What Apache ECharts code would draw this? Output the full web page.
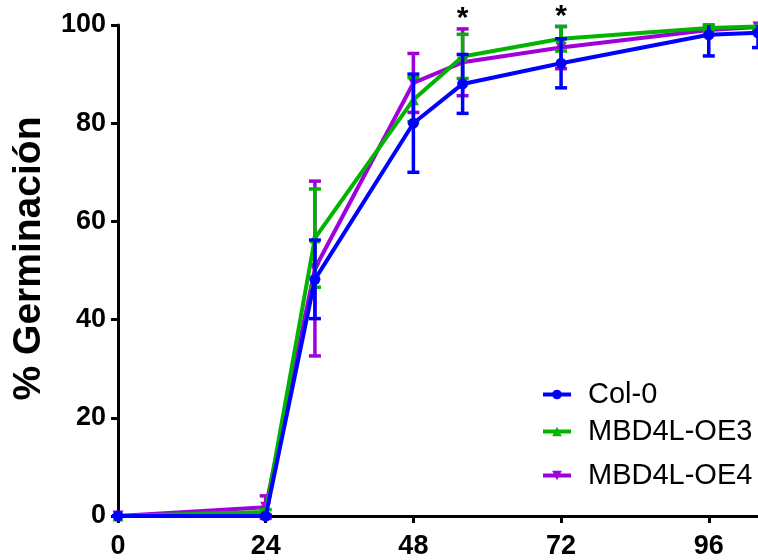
<!DOCTYPE html>
<html><head><meta charset="utf-8">
<script src="https://cdn.jsdelivr.net/npm/echarts@6/dist/echarts.min.js"></script>
<style>html,body{margin:0;padding:0;background:#fff}#c{width:758px;height:560px}</style>
</head><body><div id="c"></div>
<script>
// ---- data ----
const hours = [0, 24, 32, 48, 56, 72, 96, 104];
const col0 = [0, 0, 48.2, 80, 88, 92.2, 98, 98.4];
const col0Err = [0, 0, 8, 10, 6, 5, 4.3, 3];
const oe3 = [0, 0.8, 56.6, 84.8, 93.6, 97.2, 99.4, 99.7];
const oe3Err = [0, 0.5, 10, 4.5, 4.5, 2.5, 0.5, 0.5];
const oe4 = [0, 1.8, 50.4, 88.2, 92.4, 95.4, 99, 99.6];
const oe4Err = [0, 2.3, 17.8, 6, 6.8, 4.3, 1, 1];
const starHours = [56, 72];
const xTickLabels = [0, 24, 48, 72, 96];
const yTickLabels = [0, 20, 40, 60, 80, 100];
const seriesNames = ['Col-0', 'MBD4L-OE3', 'MBD4L-OE4'];

const colors = {'Col-0': '#0000ff', 'MBD4L-OE3': '#00b400', 'MBD4L-OE4': '#a000dc'};
const FONT = 'Liberation Sans, Arial, Helvetica, sans-serif';
const Y_MAX = 100;

function pts(vals) { return hours.map((h, i) => [h, vals[i]]); }
function errs(vals, e) { return hours.map((h, i) => [h, vals[i] - e[i], vals[i] + e[i]]); }

function errRender(color) {
  return function (params, api) {
    const x = api.value(0), lo = api.value(1), hiRaw = api.value(2);
    const clipped = hiRaw > Y_MAX;
    const hi = Math.min(hiRaw, Y_MAX);
    const p1 = api.coord([x, hi]), p2 = api.coord([x, lo]);
    const w = 6;
    const style = {stroke: color, lineWidth: 3.5};
    const children = [
      {type: 'line', shape: {x1: p1[0], y1: p1[1], x2: p2[0], y2: p2[1]}, style: style},
      {type: 'line', shape: {x1: p2[0] - w, y1: p2[1], x2: p2[0] + w, y2: p2[1]}, style: style}
    ];
    if (!clipped) children.push({type: 'line', shape: {x1: p1[0] - w, y1: p1[1], x2: p1[0] + w, y2: p1[1]}, style: style});
    return {type: 'group', children: children};
  };
}

const allSets = [[col0, col0Err], [oe3, oe3Err], [oe4, oe4Err]];
const starData = starHours.map(h => {
  const i = hours.indexOf(h);
  return [h, Math.max(...allSets.map(s => s[0][i] + s[1][i]))];
});

const lineDefs = [
  {name: 'MBD4L-OE4', vals: oe4, err: oe4Err, symbol: 'triangle', rotate: 180, size: 11},
  {name: 'MBD4L-OE3', vals: oe3, err: oe3Err, symbol: 'triangle', rotate: 0, size: 11},
  {name: 'Col-0', vals: col0, err: col0Err, symbol: 'circle', rotate: 0, size: 11}
];

const series = [];
lineDefs.forEach((d, k) => {
  series.push({
    type: 'custom', name: d.name + ' err', data: errs(d.vals, d.err),
    renderItem: errRender(colors[d.name]), z: 2 + k * 2, silent: true
  });
  series.push({
    type: 'line', name: d.name, data: pts(d.vals),
    symbol: d.symbol, symbolRotate: d.rotate, symbolSize: d.size,
    showAllSymbol: true, clip: false,
    itemStyle: {color: colors[d.name]},
    lineStyle: {color: colors[d.name], width: 4},
    z: 3 + k * 2, animation: false
  });
});
series.push({
  type: 'custom', name: 'stars', data: starData, z: 20,
  renderItem: function (params, api) {
    const p = api.coord([api.value(0), Math.min(api.value(1), Y_MAX)]);
    return {type: 'text', x: p[0], y: p[1] - 10,
      style: {text: '*', font: 'bold 30px ' + FONT, fill: '#000', textAlign: 'center', textVerticalAlign: 'middle'}};
  }
});

function legendAt(name, top) {
  return {
    data: [name], left: 541, top: top, padding: 0, itemWidth: 28, itemHeight: 12,
    lineStyle: {width: 4},
    textStyle: {fontFamily: FONT, fontSize: 29, color: '#000', padding: [0, 0, 0, 12]},
    selectedMode: false
  };
}

const chart = echarts.init(document.getElementById('c'), null, {renderer: 'canvas'});
chart.setOption({
  animation: false,
  backgroundColor: '#fff',
  grid: {left: 118, top: 25, width: 642, height: 492, containLabel: false},
  legend: [legendAt('Col-0', 380), legendAt('MBD4L-OE3', 417), legendAt('MBD4L-OE4', 461)],
  xAxis: {
    type: 'value', min: 0, max: 104, interval: 24,
    axisLine: {lineStyle: {color: '#000', width: 3}},
    axisTick: {length: 7, lineStyle: {width: 3, color: '#000'}},
    axisLabel: {
      showMaxLabel: false, margin: 17, color: '#000', fontFamily: FONT, fontWeight: 'bold', fontSize: 27,
      formatter: v => xTickLabels.includes(v) ? String(v) : ''
    },
    splitLine: {show: false}
  },
  yAxis: {
    type: 'value', min: 0, max: Y_MAX, interval: 20,
    name: '% Germinación', nameLocation: 'middle', nameGap: 69,
    nameTextStyle: {fontFamily: FONT, fontWeight: 'bold', fontSize: 39, color: '#000', padding: [0, 0, 0, 24]},
    axisLine: {show: true, lineStyle: {color: '#000', width: 3}},
    axisTick: {show: true, length: 7, lineStyle: {width: 3, color: '#000'}},
    axisLabel: {
      margin: 12, color: '#000', fontFamily: FONT, fontWeight: 'bold', fontSize: 27,
      formatter: v => yTickLabels.includes(v) ? String(v) : ''
    },
    splitLine: {show: false}
  },
  series: series
});
</script></body></html>
